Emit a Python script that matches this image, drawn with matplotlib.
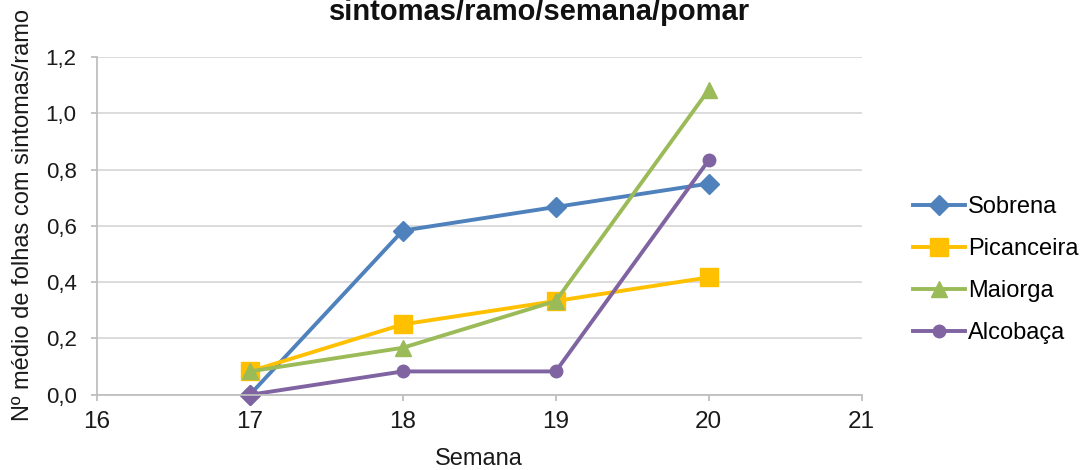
import matplotlib.pyplot as plt
from matplotlib.ticker import FuncFormatter

plt.rcParams['font.family'] = ['Liberation Sans', 'DejaVu Sans']

semanas = [17, 18, 19, 20]
sobrena = [0.0, 0.583, 0.667, 0.75]
picanceira = [0.083, 0.25, 0.333, 0.417]
maiorga = [0.083, 0.167, 0.333, 1.083]
alcobaca = [0.0, 0.083, 0.083, 0.833]

series = [
    ('Sobrena', sobrena, '#4F81BD', 'D', 10),
    ('Picanceira', picanceira, '#FFC000', 's', 13),
    ('Maiorga', maiorga, '#9BBB59', '^', 12),
    ('Alcobaça', alcobaca, '#8064A2', 'o', 9),
]

fig = plt.figure(figsize=(10.88, 4.70), dpi=100)
ax = fig.add_axes([0.089, 0.16, 0.703, 0.719])

for nome, vals, cor, mk, ms in series:
    ax.plot(semanas, vals, color=cor, marker=mk, markersize=ms, linewidth=2.8,
            label=nome, clip_on=False)
# o primeiro ponto de Alcobaça aparece como losango no original
ax.plot(semanas[0], alcobaca[0], marker='D', markersize=10, color='#8064A2',
        linestyle='none', clip_on=False)

ax.set_xlim(16, 21)
ax.set_ylim(0, 1.2)
ax.set_xticks(range(16, 22))
ax.set_yticks([0, 0.2, 0.4, 0.6, 0.8, 1.0, 1.2])
ax.yaxis.set_major_formatter(FuncFormatter(lambda v, p: '{:.1f}'.format(v).replace('.', ',')))
ax.grid(axis='y', color='#D9D9D9', linewidth=1.3)
ax.set_axisbelow(True)
for s in ['top', 'right']:
    ax.spines[s].set_visible(False)
for s in ['left', 'bottom']:
    ax.spines[s].set_color('#BFBFBF')
    ax.spines[s].set_linewidth(1.3)
ax.tick_params(axis='both', colors='#BFBFBF', labelcolor='#1a1a1a', length=4.5, width=1.3)
ax.tick_params(axis='x', labelsize=17.5, pad=7)
ax.tick_params(axis='y', labelsize=16, pad=10)

ax.set_xlabel('Semana', fontsize=17, color='#1a1a1a')
ax.xaxis.set_label_coords(0.5, -0.157)
ax.set_ylabel('Nº médio de folhas com sintomas/ramo', fontsize=17, color='#1a1a1a')
ax.yaxis.set_label_coords(-0.082, 0.533)

fig.text(0.496, 1 - 20 / 470, 'sintomas/ramo/semana/pomar', fontsize=21, fontweight='bold',
         ha='center', va='baseline', color='#111111')

fig.legend(loc='center left', bbox_to_anchor=(0.839, 0.425), frameon=False, fontsize=17,
           handlelength=2.2, labelspacing=0.85, handletextpad=0.15, borderpad=0,
           borderaxespad=0)

fig.savefig('out.png', dpi=100)
